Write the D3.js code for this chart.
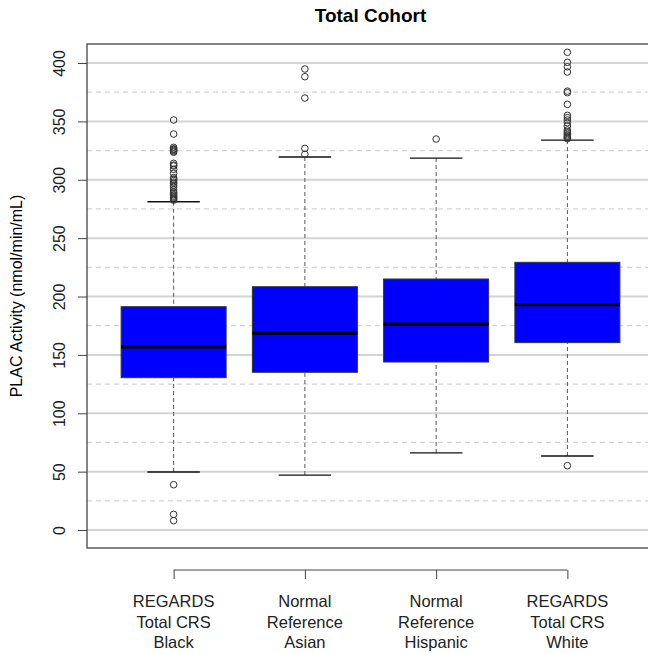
<!DOCTYPE html>
<meta charset="utf-8">
<style>
body { margin: 0; background: #fff; }
text { font-family: Arial, 'Liberation Sans', sans-serif; fill: #000; }
.title { font-size: 19px; font-weight: bold; }
.tick text { font-size: 16px; }
.xlab { font-size: 16.5px; fill: #222; }
.ylab { font-size: 16px; }
</style>
<script src="https://d3js.org/d3.v7.min.js"></script>
<div id="chart"></div>
<script>

// groups (x axis labels, one entry per line)
var groups = [
    ["REGARDS", "Total CRS", "Black"],
    ["Normal", "Reference", "Asian"],
    ["Normal", "Reference", "Hispanic"],
    ["REGARDS", "Total CRS", "White"]
];

// box statistics
var q1      = [130.5, 135.1, 143.9, 160.5];
var medians = [156.8, 168.6, 176.4, 193.0];
var q3      = [191.3, 208.4, 215.0, 229.3];
var whiskLo = [49.7, 47.1, 66.0, 63.4];
var whiskHi = [281.2, 319.5, 318.6, 334.0];

var outliers = [
    [351.2, 339.2, 327.8, 326.6, 326.0, 325.2, 324.4, 323.6, 314.1, 312.6, 311.8, 309.0, 305.5,
     301.8, 300.6, 299.4, 298.0, 296.9, 295.2, 293.6, 291.2, 289.4, 288.4, 287.2, 286.1, 285.2,
     284.4, 283.5, 282.6, 38.8, 13.4, 8.0],
    [394.9, 388.3, 370.0, 326.9, 321.8],
    [334.9],
    [409.2, 400.6, 396.8, 392.3, 375.9, 374.6, 364.6, 355.2, 353.2, 351.2, 348.9, 346.1, 342.6,
     341.0, 339.8, 338.6, 337.5, 336.6, 336.0, 335.2, 55.1]
];

var yTicks = [0, 50, 100, 150, 200, 250, 300, 350, 400];
var yMinor = [25, 75, 125, 175, 225, 275, 325, 375];

var width = 648, height = 654;
var plot = {left: 87, right: 654, top: 44, bottom: 548};

var svg = d3.select("#chart")
  .append("svg")
    .attr("width", width)
    .attr("height", height);

var x = d3.scaleLinear()
    .domain([0.34, groups.length + 0.66])
    .range([plot.left, plot.right]);

var y = d3.scaleLinear()
    .domain([-15.4, 416.3])
    .range([plot.bottom, plot.top]);

var boxW = x(1.4) - x(0.6);

// grid
svg.append("g")
  .selectAll("line")
  .data(yTicks)
  .enter()
  .append("line")
    .attr("x1", plot.left).attr("x2", plot.right)
    .attr("y1", function(d) { return y(d); })
    .attr("y2", function(d) { return y(d); })
    .attr("stroke", "#d4d4d4")
    .attr("stroke-width", 2);

svg.append("g")
  .selectAll("line")
  .data(yMinor)
  .enter()
  .append("line")
    .attr("x1", plot.left).attr("x2", plot.right)
    .attr("y1", function(d) { return y(d); })
    .attr("y2", function(d) { return y(d); })
    .attr("stroke", "#d4d4d4")
    .attr("stroke-width", 1.2)
    .style("stroke-dasharray", "5,4");

// boxes
var box = svg.append("g")
  .selectAll("g")
  .data(groups)
  .enter()
  .append("g");

// whiskers
box.append("line")
    .attr("x1", function(d, i) { return x(i + 1); })
    .attr("x2", function(d, i) { return x(i + 1); })
    .attr("y1", function(d, i) { return y(whiskHi[i]); })
    .attr("y2", function(d, i) { return y(q3[i]); })
    .attr("stroke", "#555")
    .style("stroke-dasharray", "4,3");

box.append("line")
    .attr("x1", function(d, i) { return x(i + 1); })
    .attr("x2", function(d, i) { return x(i + 1); })
    .attr("y1", function(d, i) { return y(whiskLo[i]); })
    .attr("y2", function(d, i) { return y(q1[i]); })
    .attr("stroke", "#555")
    .style("stroke-dasharray", "4,3");

// caps
[whiskHi, whiskLo].forEach(function(arr) {
  box.append("line")
      .attr("x1", function(d, i) { return x(i + 1) - boxW / 4; })
      .attr("x2", function(d, i) { return x(i + 1) + boxW / 4; })
      .attr("y1", function(d, i) { return y(arr[i]); })
      .attr("y2", function(d, i) { return y(arr[i]); })
      .attr("stroke", "#111")
      .attr("stroke-width", 1.3);
});

box.append("rect")
    .attr("x", function(d, i) { return x(i + 1) - boxW / 2; })
    .attr("y", function(d, i) { return y(q3[i]); })
    .attr("width", boxW)
    .attr("height", function(d, i) { return y(q1[i]) - y(q3[i]); })
    .attr("fill", "#0000ff")
    .attr("stroke", "#333")
    .attr("stroke-width", 1);

box.append("line")
    .attr("x1", function(d, i) { return x(i + 1) - boxW / 2; })
    .attr("x2", function(d, i) { return x(i + 1) + boxW / 2; })
    .attr("y1", function(d, i) { return y(medians[i]); })
    .attr("y2", function(d, i) { return y(medians[i]); })
    .attr("stroke", "#000")
    .attr("stroke-width", 3.2);

// outliers
box.selectAll("circle")
  .data(function(d, i) { return outliers[i].map(function(v) { return {i: i, v: v}; }); })
  .enter()
  .append("circle")
    .attr("cx", function(d) { return x(d.i + 1); })
    .attr("cy", function(d) { return y(d.v); })
    .attr("r", 3.3)
    .attr("fill", "none")
    .attr("stroke", "#333")
    .attr("stroke-width", 1);

// plot frame
svg.append("rect")
    .attr("x", plot.left)
    .attr("y", plot.top)
    .attr("width", plot.right - plot.left)
    .attr("height", plot.bottom - plot.top)
    .attr("fill", "none")
    .attr("stroke", "#444")
    .attr("stroke-width", 1.3);

// y axis
var yAxis = svg.append("g")
    .attr("transform", "translate(" + plot.left + ",0)")
    .call(d3.axisLeft(y).tickValues(yTicks).tickSize(9).tickSizeOuter(0));
yAxis.select(".domain").remove();
yAxis.selectAll(".tick line").attr("stroke", "#444");
yAxis.selectAll(".tick text")
    .attr("transform", "rotate(-90)")
    .attr("x", 0)
    .attr("y", -22)
    .attr("dy", 0)
    .attr("text-anchor", "middle")
    .style("font-family", "Arial, 'Liberation Sans', sans-serif")
    .style("fill", "#222");

// x axis, drawn below the plot like R's axis()
var xAxis = svg.append("g")
    .attr("transform", "translate(0,570)")
    .call(d3.axisBottom(x).tickValues([1, 2, 3, 4]).tickSize(9).tickFormat(""));
xAxis.select(".domain").remove();
xAxis.selectAll(".tick line").attr("stroke", "#444");
xAxis.append("line")
    .attr("x1", x(1)).attr("x2", x(groups.length))
    .attr("stroke", "#444");

svg.append("g")
  .selectAll("text")
  .data(groups)
  .enter()
  .append("text")
    .attr("class", "xlab")
    .attr("text-anchor", "middle")
    .attr("x", function(d, i) { return x(i + 1); })
    .attr("y", 607)
  .selectAll("tspan")
  .data(function(d) { return d; })
  .enter()
  .append("tspan")
    .attr("x", function() { return this.parentNode.getAttribute("x"); })
    .attr("dy", function(d, j) { return j === 0 ? 0 : 20.5; })
    .text(function(d) { return d; });

svg.append("text")
    .attr("class", "ylab")
    .attr("text-anchor", "middle")
    .attr("transform", "translate(22," + ((plot.top + plot.bottom) / 2) + ")rotate(-90)")
    .text("PLAC Activity (nmol/min/mL)");

svg.append("text")
    .attr("class", "title")
    .attr("text-anchor", "middle")
    .attr("x", (plot.left + plot.right) / 2)
    .attr("y", 22)
    .text("Total Cohort");

</script>
